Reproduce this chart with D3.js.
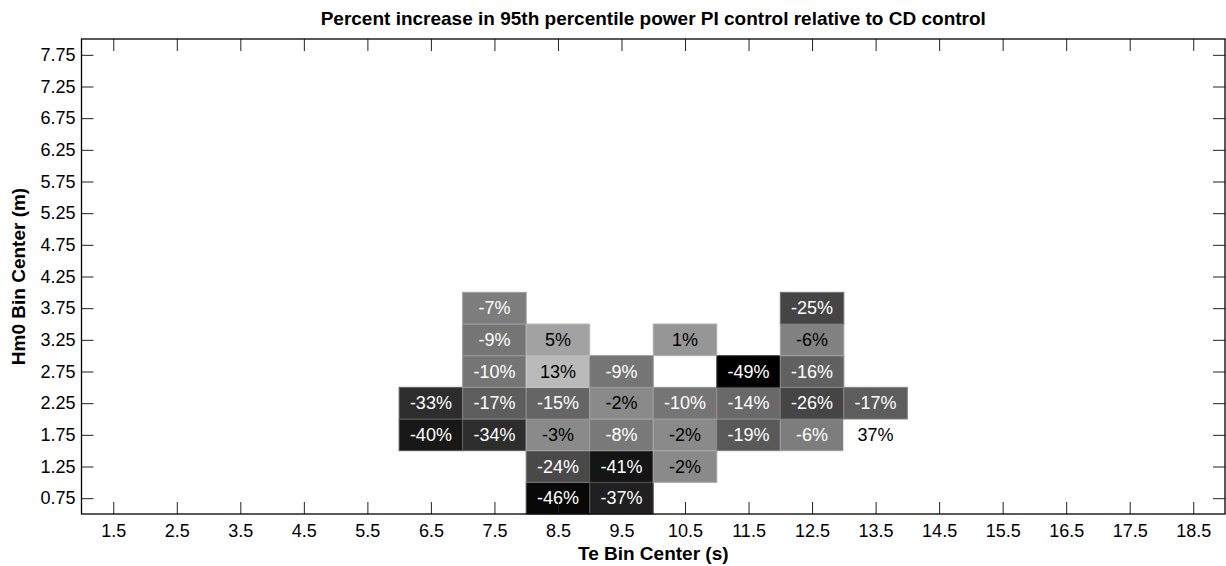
<!DOCTYPE html>
<html>
<head>
<meta charset="utf-8">
<style>
  body { margin: 0; background: #fff; }
  svg text { font-family: Arial, "Liberation Sans", sans-serif; }
</style>
</head>
<body>
<svg id="chart" width="1226" height="566"></svg>
<script src="https://cdnjs.cloudflare.com/ajax/libs/d3/7.8.5/d3.min.js"></script>
<script>
// bins of the grid
var teBins = [6.5, 7.5, 8.5, 9.5, 10.5, 11.5, 12.5, 13.5];
var hmBins = [0.75, 1.25, 1.75, 2.25, 2.75, 3.25, 3.75];

// percent increase, one row per Hm0 bin (bottom to top), null = no data
var pctRows = [
  [null, null, -46, -37, null, null, null, null],
  [null, null, -24, -41, -2, null, null, null],
  [-40, -34, -3, -8, -2, -19, -6.4, 37],
  [-33, -17, -15, -2, -10, -14, -26, -17],
  [null, -10, 13, -9, null, -49, -16, null],
  [null, -9, 5, null, 1, null, -5.6, null],
  [null, -7, null, null, null, null, -25, null]
];

var xTicks = [1.5, 2.5, 3.5, 4.5, 5.5, 6.5, 7.5, 8.5, 9.5, 10.5, 11.5, 12.5, 13.5, 14.5, 15.5, 16.5, 17.5, 18.5];
var yTicks = [0.75, 1.25, 1.75, 2.25, 2.75, 3.25, 3.75, 4.25, 4.75, 5.25, 5.75, 6.25, 6.75, 7.25, 7.75];

var svg = d3.select("#chart"),
    margin = {top: 39, right: 1, bottom: 52, left: 81.5},
    width = +svg.attr("width") - margin.left - margin.right,
    height = +svg.attr("height") - margin.top - margin.bottom,
    g = svg.append("g").attr("transform", "translate(" + margin.left + "," + margin.top + ")");

var x = d3.scaleLinear().domain([1, 19]).range([0, width]);
var y = d3.scaleLinear().domain([0.5, 8]).range([height, 0]);

// flatten the grid
var cells = [];
pctRows.forEach(function (row, i) {
  row.forEach(function (v, j) {
    if (v !== null) cells.push({te: teBins[j], hm: hmBins[i], v: v});
  });
});

var vmin = d3.min(cells, function (d) { return d.v; }),
    vmax = d3.max(cells, function (d) { return d.v; });

// 64 level gray map, like matlab
function grayOf(v) {
  var idx = Math.floor((v - vmin) / (vmax - vmin) * 64);
  idx = Math.max(0, Math.min(63, idx));
  var c = Math.round(idx / 63 * 255);
  return d3.rgb(c, c, c).toString();
}

g.selectAll("rect.cell")
  .data(cells)
  .enter().append("rect")
    .attr("class", "cell")
    .attr("x", function (d) { return x(d.te - 0.5); })
    .attr("y", function (d) { return y(d.hm + 0.25); })
    .attr("width", x(2) - x(1))
    .attr("height", y(0.5) - y(1))
    .attr("fill", function (d) { return grayOf(d.v); })
    .attr("stroke", function (d) { return d3.interpolateRgb(grayOf(d.v), "#fff")(0.25); })
    .attr("stroke-width", 1);

g.selectAll("text.lbl")
  .data(cells)
  .enter().append("text")
    .attr("class", "lbl")
    .attr("x", function (d) { return x(d.te); })
    .attr("y", function (d) { return y(d.hm); })
    .attr("dy", "0.35em")
    .attr("text-anchor", "middle")
    .attr("font-size", 18)
    .attr("fill", function (d) { return d.v < -6 ? "#fff" : "#000"; })
    .text(function (d) { return Math.round(d.v) + "%"; });

// axes, ticks pointing inwards on all four sides
var tickLen = 12;
var xb = g.append("g").attr("transform", "translate(0," + height + ")")
  .call(d3.axisBottom(x).tickValues(xTicks).tickSize(-tickLen).tickPadding(10).tickFormat(d3.format("")));
var xt = g.append("g")
  .call(d3.axisTop(x).tickValues(xTicks).tickSize(-tickLen).tickFormat(""));
var yl = g.append("g")
  .call(d3.axisLeft(y).tickValues(yTicks).tickSize(-tickLen).tickPadding(6).tickFormat(d3.format("")));
var yr = g.append("g").attr("transform", "translate(" + width + ",0)")
  .call(d3.axisRight(y).tickValues(yTicks).tickSize(-tickLen).tickFormat(""));

[xb, xt, yl, yr].forEach(function (a) {
  a.select(".domain").remove();
  a.selectAll(".tick line").attr("stroke", "#222").attr("stroke-width", 1);
  a.selectAll(".tick text").attr("font-size", 18).attr("fill", "#000")
    .style("font-family", "Arial, 'Liberation Sans', sans-serif");
});

g.append("rect")
  .attr("x", 0).attr("y", 0)
  .attr("width", width).attr("height", height)
  .attr("fill", "none")
  .attr("stroke", "#000")
  .attr("stroke-width", 1.3);

// titles
svg.append("text")
  .attr("x", margin.left + width / 2)
  .attr("y", 25)
  .attr("text-anchor", "middle")
  .attr("font-size", 19)
  .attr("font-weight", "bold")
  .text("Percent increase in 95th percentile power PI control relative to CD control");

svg.append("text")
  .attr("x", margin.left + width / 2)
  .attr("y", 560)
  .attr("text-anchor", "middle")
  .attr("font-size", 19)
  .attr("font-weight", "bold")
  .text("Te Bin Center (s)");

svg.append("text")
  .attr("transform", "translate(25," + (margin.top + height / 2) + ") rotate(-90)")
  .attr("text-anchor", "middle")
  .attr("font-size", 19)
  .attr("font-weight", "bold")
  .text("Hm0 Bin Center (m)");
</script>
</body>
</html>
